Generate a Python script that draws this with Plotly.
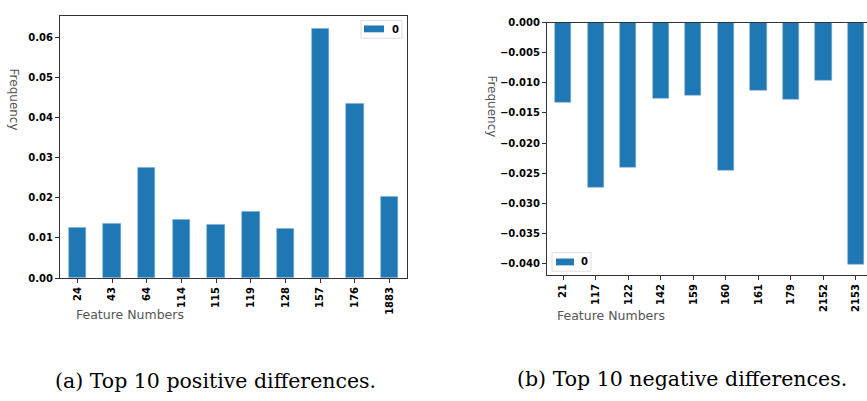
import plotly.graph_objects as go

# ---- data ----
pos_features = ["24", "43", "64", "114", "115", "119", "128", "157", "176", "1883"]
pos_values = [0.0126, 0.0134, 0.0275, 0.0146, 0.0133, 0.0165, 0.0123, 0.0621, 0.0435, 0.0203]

neg_features = ["21", "117", "122", "142", "159", "160", "161", "179", "2152", "2153"]
neg_values = [-0.0133, -0.0274, -0.0240, -0.0126, -0.0121, -0.0245, -0.0112, -0.0127, -0.0097, -0.0402]

series_name = "0"
caption_a = "(a) Top 10 positive differences."
caption_b = "(b) Top 10 negative differences."
x_title = "Feature Numbers"
y_title = "Frequency"

W, H = 867, 401
BLUE = "#1f77b4"
SPINE = "#333333"

def px(x):
    return x / W

def py(y):
    return 1 - y / H

fig = go.Figure()
fig.add_trace(go.Bar(x=pos_features, y=pos_values, width=0.5, marker_color=BLUE,
                     marker_line=dict(color="rgba(120,170,210,0.9)", width=0.6),
                     name=series_name, showlegend=False, xaxis="x", yaxis="y"))
fig.add_trace(go.Bar(x=neg_features, y=neg_values, width=0.5, marker_color=BLUE,
                     marker_line=dict(color="rgba(120,170,210,0.9)", width=0.6),
                     name=series_name, showlegend=False, xaxis="x2", yaxis="y2"))

tickfont = dict(family="DejaVu Sans", size=10, color="black", weight="bold")
common_x = dict(type="category", showline=True, linecolor=SPINE, linewidth=1,
                ticks="outside", ticklen=4, tickcolor=SPINE, tickangle=-90,
                tickfont=tickfont, showgrid=False, zeroline=False, fixedrange=True)
common_y = dict(showline=True, linecolor=SPINE, linewidth=1, ticks="outside",
                ticklen=4, tickcolor=SPINE, tickfont=tickfont, showgrid=False,
                zeroline=False)

fig.update_layout(
    width=W, height=H, margin=dict(l=0, r=0, t=0, b=0),
    paper_bgcolor="white", plot_bgcolor="white",
    bargap=0,
    xaxis=dict(common_x, domain=[px(60), px(407)], range=[-0.5, 9.5], mirror=True, anchor="y"),
    yaxis=dict(common_y, domain=[py(280), py(11)], range=[0, 0.0653], dtick=0.01,
               tickformat=".2f", mirror=True, anchor="x"),
    xaxis2=dict(common_x, domain=[px(547), px(867)], range=[-0.5, 9.34], mirror=True, anchor="y2"),
    yaxis2=dict(common_y, domain=[py(277), py(18)], range=[-0.0419, 0], dtick=0.005,
                tickformat=".3f", mirror=False, anchor="x2"),
    showlegend=False,
)

ann_font = dict(family="DejaVu Sans", size=12, color="#555555")
cap_font = dict(family="DejaVu Serif", size=20.5, color="black")
annotations = [
    dict(text=y_title, x=px(14), y=py(97), textangle=90),
    dict(text=y_title, x=px(492), y=py(104), textangle=90),
    dict(text=x_title, x=px(74), y=py(317), xanchor="left", font=dict(ann_font, size=12.5)),
    dict(text=x_title, x=px(555), y=py(318), xanchor="left", font=dict(ann_font, size=12.5)),
    dict(text=series_name, x=px(390), y=py(25), xanchor="left",
         font=dict(family="DejaVu Sans", size=10, color="black", weight="bold")),
    dict(text=series_name, x=px(579), y=py(263.5), xanchor="left",
         font=dict(family="DejaVu Sans", size=10, color="black", weight="bold")),
    dict(text=caption_a, x=px(215), y=py(386), font=cap_font),
    dict(text=caption_b, x=px(682), y=py(384), font=cap_font),
]
for a in annotations:
    a.setdefault("font", ann_font)
    a.update(xref="paper", yref="paper", showarrow=False)
    a.setdefault("xanchor", "center")
    a.setdefault("yanchor", "middle")
fig.update_layout(annotations=annotations)

shapes = [
    # legend boxes
    dict(type="rect", x0=px(361), x1=px(402), y0=py(34), y1=py(16),
         line=dict(color="#dddddd", width=1), fillcolor="rgba(255,255,255,0.8)"),
    dict(type="rect", x0=px(364), x1=px(384), y0=py(28), y1=py(21),
         line=dict(width=0), fillcolor=BLUE),
    dict(type="rect", x0=px(552), x1=px(591), y0=py(273), y1=py(254),
         line=dict(color="#dddddd", width=1), fillcolor="rgba(255,255,255,0.8)"),
    dict(type="rect", x0=px(556), x1=px(574), y0=py(267), y1=py(260),
         line=dict(width=0), fillcolor=BLUE),
]
for s in shapes:
    s.update(xref="paper", yref="paper")
fig.update_layout(shapes=shapes)

fig.write_html("out.html")
